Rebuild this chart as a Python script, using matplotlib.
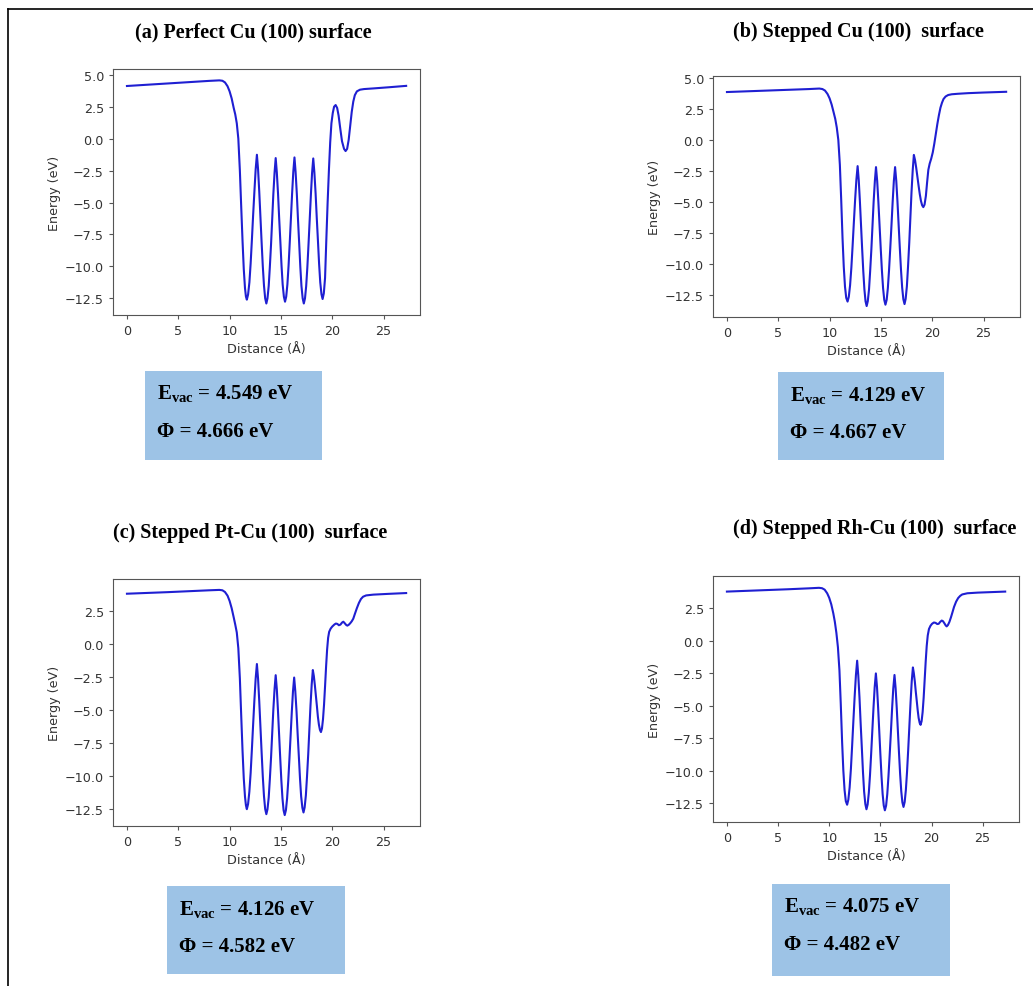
import matplotlib
matplotlib.use("Agg")
import matplotlib.pyplot as plt
from matplotlib.lines import Line2D
from matplotlib.patches import Rectangle

# ------------------ Datos ------------------
dist_a = [0, 2, 4, 6, 8, 9.0, 9.3, 9.55, 9.8, 10.0, 10.2, 10.4, 10.55, 10.7, 10.85, 11.0,
          11.13, 11.26, 11.38, 11.5, 11.59, 11.68,
          11.80, 11.93, 12.05, 12.17, 12.29, 12.42, 12.54, 12.66,
          12.775, 12.89, 13.005, 13.12, 13.235, 13.35, 13.465, 13.58,
          13.69, 13.81, 13.92, 14.04, 14.15, 14.26, 14.38, 14.49,
          14.60, 14.72, 14.83, 14.95, 15.06, 15.17, 15.29, 15.40,
          15.515, 15.63, 15.745, 15.86, 15.975, 16.09, 16.205, 16.32,
          16.43, 16.55, 16.66, 16.78, 16.89, 17.00, 17.12, 17.23,
          17.345, 17.46, 17.575, 17.69, 17.805, 17.92, 18.035, 18.15,
          18.26, 18.38, 18.49, 18.61, 18.72, 18.83, 18.95, 19.06,
          19.18, 19.3, 19.42, 19.55, 19.68, 19.8, 19.92, 20.05, 20.18, 20.33,
          20.48, 20.62, 20.78, 20.95, 21.15, 21.3, 21.45, 21.6, 21.75, 21.9,
          22.05, 22.2, 22.4, 22.7, 23.1, 24, 25.5, 27.2]
energy_a = [4.12, 4.22, 4.32, 4.42, 4.52, 4.56, 4.53, 4.4, 4.1, 3.7, 3.15, 2.4, 1.9, 1.2, 0.0, -2.5,
            -5.3, -8.0, -10.2, -11.7, -12.35, -12.6,
            -12.20, -11.24, -9.76, -7.95, -6.02, -4.09, -2.39, -1.26,
            -2.42, -4.17, -6.15, -8.13, -9.99, -11.50, -12.49, -12.9,
            -12.50, -11.53, -10.05, -8.23, -6.30, -4.36, -2.66, -1.52,
            -2.64, -4.33, -6.24, -8.15, -9.95, -11.41, -12.37, -12.76,
            -12.36, -11.41, -9.94, -8.13, -6.21, -4.29, -2.60, -1.47,
            -2.61, -4.33, -6.27, -8.21, -10.04, -11.53, -12.50, -12.9,
            -12.50, -11.54, -10.06, -8.25, -6.32, -4.39, -2.68, -1.55,
            -2.65, -4.30, -6.17, -8.04, -9.80, -11.23, -12.17, -12.55,
            -12.1, -10.9, -8.0, -5.0, -2.4, -0.3, 1.2, 2.0, 2.5, 2.63,
            2.4, 1.8, 0.8, -0.2, -0.8, -0.97, -0.8, -0.1, 1.0, 2.1,
            2.9, 3.4, 3.7, 3.83, 3.88, 3.93, 4.02, 4.13]

dist_b = [0, 2, 4, 6, 8, 9.0, 9.3, 9.55, 9.8, 10.0, 10.2, 10.4, 10.55, 10.7, 10.85, 11.0,
          11.13, 11.26, 11.38, 11.5, 11.62, 11.75,
          11.87, 11.995, 12.12, 12.24, 12.36, 12.485, 12.61, 12.73,
          12.84, 12.95, 13.06, 13.17, 13.28, 13.39, 13.50, 13.61,
          13.72, 13.84, 13.95, 14.07, 14.18, 14.29, 14.41, 14.52,
          14.635, 14.75, 14.865, 14.98, 15.095, 15.21, 15.325, 15.44,
          15.56, 15.675, 15.79, 15.91, 16.03, 16.145, 16.26, 16.38,
          16.495, 16.61, 16.725, 16.84, 16.955, 17.07, 17.185, 17.30,
          17.41, 17.53, 17.64, 17.76, 17.87, 17.98, 18.10, 18.21,
          18.325, 18.44, 18.555, 18.67, 18.785, 18.90, 19.015, 19.13,
          19.25, 19.38, 19.5, 19.62, 19.75, 19.9, 20.05, 20.2, 20.35, 20.5,
          20.65, 20.8, 20.95, 21.1, 21.3, 21.55, 21.9, 22.5, 23.5, 25, 27.2]
energy_b = [3.86, 3.92, 3.98, 4.04, 4.1, 4.14, 4.1, 3.98, 3.7, 3.35, 2.85, 2.2, 1.7, 1.0, 0.0, -2.0,
            -4.8, -7.9, -10.2, -11.8, -12.7, -13.0,
            -12.62, -11.69, -10.27, -8.53, -6.68, -4.82, -3.19, -2.1,
            -3.23, -4.91, -6.83, -8.74, -10.54, -12.01, -12.97, -13.36,
            -12.97, -12.02, -10.56, -8.78, -6.88, -4.97, -3.30, -2.18,
            -3.29, -4.95, -6.83, -8.71, -10.48, -11.92, -12.86, -13.25,
            -12.86, -11.92, -10.48, -8.71, -6.83, -4.95, -3.29, -2.18,
            -3.28, -4.93, -6.81, -8.68, -10.44, -11.88, -12.81, -13.2,
            -12.78, -11.76, -10.2, -8.28, -6.24, -4.2, -2.4, -1.2,
            -1.62, -2.25, -2.96, -3.68, -4.35, -4.90, -5.25, -5.4,
            -5.2, -4.5, -3.4, -2.4, -1.9, -1.5, -1.0, -0.3, 0.5, 1.3,
            2.0, 2.6, 3.0, 3.3, 3.5, 3.62, 3.68, 3.72, 3.77, 3.82, 3.88]

dist_c = [0, 2, 4, 6, 8, 9.0, 9.3, 9.55, 9.8, 10.0, 10.2, 10.4, 10.55, 10.7, 10.85, 11.0,
          11.13, 11.26, 11.38, 11.5, 11.59, 11.68,
          11.80, 11.925, 12.05, 12.17, 12.29, 12.415, 12.54, 12.66,
          12.775, 12.89, 13.005, 13.12, 13.235, 13.35, 13.465, 13.58,
          13.69, 13.81, 13.92, 14.04, 14.15, 14.26, 14.38, 14.49,
          14.60, 14.71, 14.82, 14.93, 15.04, 15.15, 15.26, 15.37,
          15.485, 15.60, 15.715, 15.83, 15.945, 16.06, 16.175, 16.29,
          16.40, 16.52, 16.63, 16.75, 16.86, 16.97, 17.09, 17.20,
          17.31, 17.43, 17.54, 17.66, 17.77, 17.88, 18.00, 18.11,
          18.21, 18.31, 18.41, 18.51, 18.60, 18.70, 18.80, 18.90,
          19.0, 19.1, 19.2, 19.3, 19.4, 19.5, 19.6, 19.7, 19.85, 20.0,
          20.2, 20.35, 20.5, 20.65, 20.8, 20.95, 21.08, 21.2, 21.35, 21.47,
          21.6, 21.75, 21.9, 22.05, 22.2, 22.4, 22.6, 22.8, 23.0, 23.3, 24, 25.5, 27.2]
energy_c = [3.85, 3.91, 3.97, 4.04, 4.11, 4.14, 4.11, 3.98, 3.7, 3.3, 2.75, 2.05, 1.5, 0.9, -0.3, -2.6,
            -5.4, -8.1, -10.2, -11.6, -12.25, -12.55,
            -12.16, -11.22, -9.79, -8.02, -6.14, -4.26, -2.60, -1.5,
            -2.64, -4.36, -6.30, -8.24, -10.07, -11.56, -12.53, -12.93,
            -12.56, -11.66, -10.28, -8.59, -6.79, -4.99, -3.41, -2.35,
            -3.41, -5.01, -6.82, -8.63, -10.34, -11.72, -12.63, -13.0,
            -12.63, -11.74, -10.38, -8.71, -6.93, -5.15, -3.58, -2.53,
            -3.56, -5.10, -6.84, -8.59, -10.23, -11.57, -12.44, -12.8,
            -12.42, -11.50, -10.09, -8.36, -6.51, -4.67, -3.04, -1.96,
            -2.43, -3.14, -3.94, -4.74, -5.50, -6.11, -6.51, -6.68,
            -6.4, -5.7, -4.6, -3.2, -1.7, -0.4, 0.5, 0.95, 1.2, 1.35,
            1.5, 1.58, 1.55, 1.45, 1.5, 1.65, 1.72, 1.62, 1.48, 1.42,
            1.48, 1.6, 1.75, 1.95, 2.3, 2.75, 3.15, 3.45, 3.62, 3.72, 3.78, 3.84, 3.9]

dist_d = [0, 2, 4, 6, 8, 9.0, 9.3, 9.55, 9.8, 10.0, 10.2, 10.4, 10.55, 10.7, 10.85, 11.0,
          11.13, 11.26, 11.38, 11.5, 11.62, 11.75,
          11.87, 11.995, 12.12, 12.24, 12.36, 12.485, 12.61, 12.73,
          12.84, 12.96, 13.07, 13.19, 13.30, 13.41, 13.53, 13.64,
          13.755, 13.87, 13.985, 14.10, 14.215, 14.33, 14.445, 14.56,
          14.67, 14.78, 14.89, 15.00, 15.11, 15.22, 15.33, 15.44,
          15.56, 15.675, 15.79, 15.91, 16.03, 16.145, 16.26, 16.38,
          16.49, 16.60, 16.71, 16.82, 16.93, 17.04, 17.15, 17.26,
          17.375, 17.49, 17.605, 17.72, 17.835, 17.95, 18.065, 18.18,
          18.27, 18.37, 18.46, 18.56, 18.65, 18.74, 18.84, 18.93,
          19.03, 19.13, 19.23, 19.33, 19.43, 19.53, 19.63, 19.75, 19.9, 20.05,
          20.23, 20.4, 20.56, 20.7, 20.85, 21.0, 21.12, 21.25, 21.38, 21.48,
          21.6, 21.75, 21.9, 22.04, 22.2, 22.4, 22.6, 22.8, 23.0, 23.5, 24.5, 27.2]
energy_d = [3.78, 3.84, 3.9, 3.96, 4.03, 4.07, 4.04, 3.93, 3.65, 3.3, 2.8, 2.1, 1.45, 0.6, -0.5, -2.3,
            -4.9, -7.8, -10.0, -11.5, -12.35, -12.63,
            -12.24, -11.30, -9.86, -8.08, -6.20, -4.31, -2.65, -1.54,
            -2.68, -4.40, -6.34, -8.29, -10.12, -11.61, -12.58, -12.98,
            -12.61, -11.72, -10.36, -8.69, -6.91, -5.13, -3.57, -2.52,
            -3.57, -5.15, -6.95, -8.74, -10.42, -11.80, -12.69, -13.06,
            -12.70, -11.81, -10.45, -8.79, -7.02, -5.24, -3.68, -2.64,
            -3.66, -5.18, -6.91, -8.63, -10.26, -11.58, -12.44, -12.8,
            -12.42, -11.51, -10.11, -8.40, -6.57, -4.74, -3.13, -2.06,
            -2.50, -3.16, -3.92, -4.67, -5.37, -5.95, -6.33, -6.48,
            -6.2, -5.5, -4.4, -3.0, -1.6, -0.4, 0.4, 0.9, 1.15, 1.3,
            1.4, 1.37, 1.28, 1.3, 1.45, 1.55, 1.5, 1.35, 1.18, 1.1,
            1.2, 1.45, 1.8, 2.17, 2.6, 3.0, 3.28, 3.45, 3.56, 3.65, 3.7, 3.78]

titles = ["(a) Perfect Cu (100) surface", "(b) Stepped Cu (100)  surface",
          "(c) Stepped Pt-Cu (100)  surface", "(d) Stepped Rh-Cu (100)  surface"]
e_vac = ["4.549", "4.129", "4.126", "4.075"]
phi = ["4.666", "4.667", "4.582", "4.482"]

# ------------------ Configuración ------------------
W, H = 1033, 987
plt.rcParams['mathtext.fontset'] = 'custom'
plt.rcParams['mathtext.bf'] = 'Liberation Serif:bold'
plt.rcParams['mathtext.rm'] = 'Liberation Serif'

fig = plt.figure(figsize=(W / 100, H / 100), dpi=100)

def px_rect(x0, y0, x1, y1):
    """Convierte un rectángulo en píxeles (origen arriba) a coordenadas de figura."""
    return [x0 / W, 1 - y1 / H, (x1 - x0) / W, (y1 - y0) / H]

# posiciones en píxeles: ejes, título, caja de texto, ylim
paneles = [
    dict(ax=(113, 70, 420, 316), title=(253, 32), box=(145, 372, 322, 461), ylim=(-13.8, 5.45)),
    dict(ax=(713, 77, 1020, 318), title=(858, 32), box=(778, 373, 944, 461), ylim=(-14.24, 5.15)),
    dict(ax=(113, 580, 420, 827), title=(250, 533), box=(167, 887, 345, 975), ylim=(-13.83, 4.97)),
    dict(ax=(713, 577, 1019, 823), title=(875, 529), box=(772, 885, 950, 977), ylim=(-13.96, 4.98)),
]
series = [(dist_a, energy_a), (dist_b, energy_b), (dist_c, energy_c), (dist_d, energy_d)]

for i, p in enumerate(paneles):
    ax = fig.add_axes(px_rect(*p['ax']))
    x, y = series[i]
    ax.plot(x, y, color='#1f1fd2', lw=1.5)
    ax.set_xlim(-1.36, 28.55)
    ax.set_ylim(*p['ylim'])
    ax.set_xticks([0, 5, 10, 15, 20, 25])
    ax.set_xlabel('Distance (Å)', fontsize=9.2, color='#333333', labelpad=3.5)
    ax.set_ylabel('Energy (eV)', fontsize=9.2, color='#333333', labelpad=3)
    ax.tick_params(labelsize=9.2, labelcolor='#333333', color='#555555', length=3)
    for s in ax.spines.values():
        s.set_color('#555555')

    tx, ty = p['title']
    fig.text(tx / W, 1 - ty / H, titles[i], ha='center', va='center',
             fontfamily='Liberation Serif', fontweight='bold', fontsize=14.5)

    bx0, by0, bx1, by1 = p['box']
    fig.add_artist(Rectangle((bx0 / W, 1 - by1 / H), (bx1 - bx0) / W, (by1 - by0) / H,
                             transform=fig.transFigure, facecolor='#9dc3e6', edgecolor='none'))
    fig.text((bx0 + 12) / W, 1 - (by0 + 22) / H, r'$\mathbf{E_{vac}}$' + ' = ' + e_vac[i] + ' eV',
             ha='left', va='center', fontfamily='Liberation Serif', fontweight='bold', fontsize=15)
    fig.text((bx0 + 12) / W, 1 - (by0 + 60) / H, 'Φ = ' + phi[i] + ' eV',
             ha='left', va='center', fontfamily='Liberation Serif', fontweight='bold', fontsize=15)

# marco exterior (solo arriba e izquierda)
fig.add_artist(Line2D([8 / W, 1], [1 - 10 / H, 1 - 10 / H], transform=fig.transFigure, color='black', lw=1.2))
fig.add_artist(Line2D([8 / W, 8 / W], [0, 1 - 10 / H], transform=fig.transFigure, color='black', lw=1.2))

fig.savefig('out.png', dpi=100)
plt.close()
